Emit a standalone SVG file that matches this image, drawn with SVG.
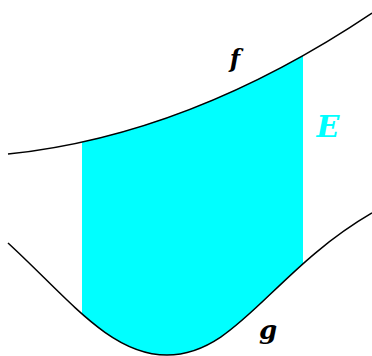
<svg xmlns="http://www.w3.org/2000/svg" width="372" height="356" viewBox="0 0 372 356">
<style>
.curve{fill:none;stroke:#000;stroke-width:1.5}
.lbl{font-family:"DejaVu Serif","Liberation Serif",serif;font-weight:bold;font-style:italic;text-anchor:middle}
</style>
<defs>
<clipPath id="band"><rect x="82" y="0" width="221" height="356"/></clipPath>
</defs>
<rect width="372" height="356" fill="#fff"/>
<g id="region-E">
<path clip-path="url(#band)" fill="#00ffff" d="M8,154 Q190,135 372,13 L372,213 C272,271 237,355 167,355 C110,355 68,298 8,243 Z"/>
<text class="lbl" x="328" y="137" font-size="30" fill="#00ffff">E</text>
</g>
<g id="connectors">
<path id="curve-f" class="curve" d="M8,154 Q190,135 372,13"/>
<path id="curve-g" class="curve" d="M8,243 C68,298 110,355 167,355 C237,355 272,271 372,213"/>
</g>
<g id="label-f"><text class="lbl" x="235" y="67" font-size="24" fill="#000">f</text></g>
<g id="label-g"><text class="lbl" x="268" y="339" font-size="26" fill="#000">g</text></g>
</svg>
